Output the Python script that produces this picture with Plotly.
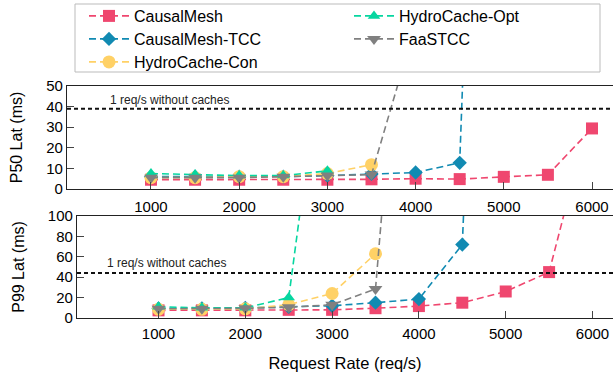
import plotly.graph_objects as go

rates = [1000, 1500, 2000, 2500, 3000, 3500, 4000, 4500, 5000, 5500, 6000]

names = ["CausalMesh", "CausalMesh-TCC", "HydroCache-Con", "HydroCache-Opt", "FaaSTCC"]
colors = ["#EF476F", "#118AB2", "#FFD166", "#06D6A0", "#808080"]
symbols = ["square", "diamond", "circle", "triangle-up", "triangle-down"]
sizes = [12, 11, 13, 11, 12]

p50_causalmesh = [4.5, 4.5, 4.5, 4.5, 4.5, 4.7, 5.0, 4.8, 5.9, 6.9, 29.4]
p50_tcc = [6.0, 6.0, 6.0, 6.0, 6.5, 7.3, 8.0, 12.7, 600, None, None]
p50_con = [5.5, 5.5, 6.0, 6.0, 7.5, 11.8, None, None, None, None, None]
p50_opt = [7.5, 7.0, 6.5, 6.5, 8.8, None, None, None, None, None, None]
p50_faas = [5.5, 5.5, 5.5, 6.0, 6.5, 7.0, 80, None, None, None, None]

p99_causalmesh = [7.5, 7.5, 7.5, 8.0, 8.0, 9.6, 11.7, 15.0, 26.0, 45.0, 210]
p99_tcc = [9.5, 9.5, 10.0, 11.0, 12.0, 15.0, 18.6, 72.0, 1100, None, None]
p99_con = [8.5, 8.5, 9.0, 13.0, 24.0, 63.0, None, None, None, None, None]
p99_opt = [11.0, 10.0, 10.0, 20.0, 340, None, None, None, None, None, None]
p99_faas = [9.0, 9.0, 9.5, 10.5, 13.0, 28.4, 540, None, None, None, None]

p50_series = [p50_causalmesh, p50_tcc, p50_con, p50_opt, p50_faas]
p99_series = [p99_causalmesh, p99_tcc, p99_con, p99_opt, p99_faas]

baseline_p50 = 39
baseline_p99 = 44
baseline_text = "1 req/s without caches"
x_ticks = [1000, 2000, 3000, 4000, 5000, 6000]

W, H = 613, 372
FONT = "Liberation Sans, Arial, sans-serif"

# legend slot (pixel) positions: column-major, 3 rows x 2 columns
legend_ids = ["legend", "legend2", "legend3", "legend4", "legend5"]
legend_px = [(84, 16), (84, 39), (84, 62), (349, 16), (349, 39)]

fig = go.Figure()
for i, name in enumerate(names):
    for series, xa, ya, show in [(p50_series[i], "x", "y", True), (p99_series[i], "x2", "y2", False)]:
        fig.add_trace(go.Scatter(
            x=rates, y=series, xaxis=xa, yaxis=ya, name=name,
            mode="lines+markers", legendgroup=name, showlegend=show,
            legend=legend_ids[i],
            line=dict(color=colors[i], width=1.6, dash="7px,4px"),
            marker=dict(symbol=symbols[i], size=sizes[i], color=colors[i], line=dict(width=0)),
            connectgaps=False,
        ))

axis_common = dict(
    showline=True, linecolor="#222", linewidth=1.3, showgrid=False, zeroline=False,
    ticks="inside", ticklen=7, tickcolor="#444", tickwidth=1, automargin=False,
    tickfont=dict(family=FONT, size=15, color="black"),
)

legend_common = dict(orientation="v", xanchor="left", yanchor="middle", borderwidth=0,
                     bgcolor="rgba(0,0,0,0)", font=dict(family=FONT, size=16, color="black"),
                     itemwidth=40)

layout_legends = {}
for lid, (px, py) in zip(legend_ids, legend_px):
    layout_legends[lid] = dict(x=px / W, y=1 - py / H, **legend_common)

fig.update_layout(
    width=W, height=H, margin=dict(l=0, r=0, t=0, b=0, autoexpand=False),
    paper_bgcolor="white", plot_bgcolor="white",
    font=dict(family=FONT, color="black"),
    xaxis=dict(domain=[67 / W, 1], range=[48, 6238], tickvals=x_ticks, mirror=True,
               anchor="y", ticklabelstandoff=4, **axis_common),
    yaxis=dict(domain=[1 - 189 / H, 1 - 86 / H], range=[0, 50], dtick=10, anchor="x",
               title=dict(text="P50 Lat (ms)", font=dict(size=16), standoff=19), **axis_common),
    xaxis2=dict(domain=[77 / W, 1], range=[61, 6236], tickvals=x_ticks, mirror=True,
                anchor="y2", ticklabelstandoff=2,
                title=dict(text="Request Rate (req/s)", font=dict(size=16.5), standoff=16),
                **axis_common),
    yaxis2=dict(domain=[1 - 318 / H, 1 - 216 / H], range=[0, 100], dtick=20, anchor="x2",
                title=dict(text="P99 Lat (ms)", font=dict(size=16), standoff=19), **axis_common),
    showlegend=True,
    **layout_legends,
)

# legend frame
fig.add_shape(type="rect", xref="paper", yref="paper", x0=75 / W, x1=600 / W,
              y0=1 - 72 / H, y1=1 - 4 / H, line=dict(color="#bbbbbb", width=1), layer="below")

for xref, yref, val, ax_x, ax_y in [("x", "y", baseline_p50, 1215, 43), ("x2", "y2", baseline_p99, 1092, 54)]:
    fig.add_shape(type="line", xref=f"{xref} domain", yref=yref, x0=0, x1=1, y0=val, y1=val,
                  line=dict(color="#111", width=2, dash="4px,3px"))
    fig.add_annotation(xref=xref, yref=yref, x=ax_x, y=ax_y, text=baseline_text, showarrow=False,
                       font=dict(family=FONT, size=12, color="#222"))

fig.write_html("out.html", config={"displayModeBar": False},
               post_script="document.body.style.margin='0';document.body.style.padding='0';")
